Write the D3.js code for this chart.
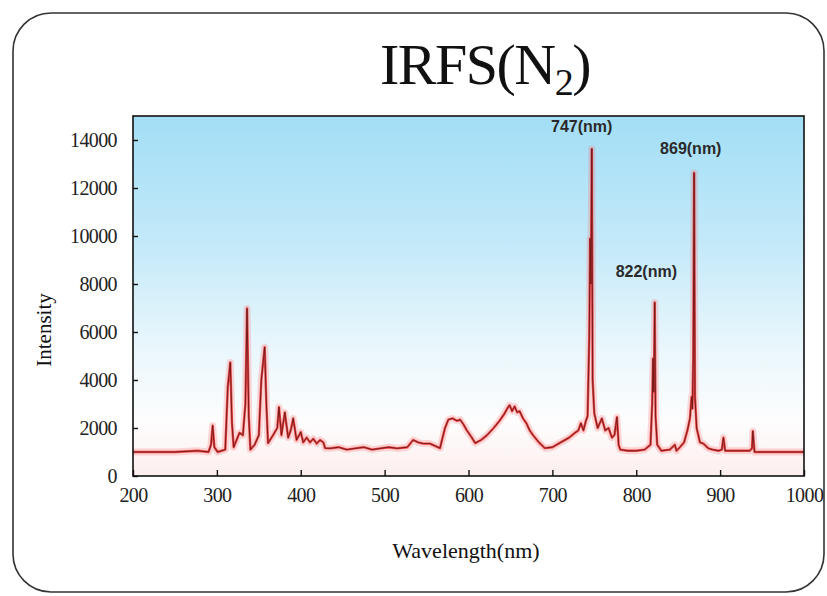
<!DOCTYPE html>
<html lang="en">
<head>
  <meta charset="UTF-8">
  <title>IRFS(N2)</title>
  <script src="https://d3js.org/d3.v7.min.js"></script>
  <style>
    body, html { margin: 0; padding: 0; background: #fff; }
    svg { display: block; }
    .tick-label { font-family: "Liberation Serif", "Times New Roman", serif; font-size: 20px; fill: #222; letter-spacing: -0.6px; }
    .axis-title { font-family: "Liberation Serif", "Times New Roman", serif; fill: #111; }
    .peak-label { font-family: "Liberation Sans", Arial, sans-serif; font-size: 16px; font-weight: bold; fill: #2a2a2a; }
  </style>
</head>
<body>
  <svg id="chart" width="827" height="596"></svg>
  <script>
    // spectrum (wavelength nm / intensity)
    const wavelength = [200, 250, 277, 290, 293, 295, 297, 301, 310, 313, 316, 318, 320, 327, 331, 334, 336, 338, 340, 345, 350, 353, 357, 359, 361, 367, 372, 374, 377, 381, 385, 388, 391, 395, 400, 403, 407, 411, 415, 419, 423, 427, 429, 435, 445, 455, 465, 475, 485, 495, 505, 515, 527, 534, 540, 546, 554, 566, 572, 576, 581, 586, 590, 594, 598, 603, 608, 615, 622, 630, 637, 642, 646, 649, 652, 655, 658, 661, 665, 669, 673, 677, 684, 691, 700, 710, 720, 727, 731, 734, 737, 740, 742, 744, 745, 746, 747, 748, 750, 754, 759, 763, 767, 771, 774, 777, 779, 781, 790, 800, 810, 817, 819, 820, 821, 822, 823, 825, 830, 840, 846, 848, 852, 857, 861, 864, 866, 867, 868, 869, 870, 872, 876, 880, 886, 891, 898, 902, 904, 906, 915, 925, 935, 938, 939, 941, 950, 970, 1000];
    const intensity = [1000, 1000, 1050, 1000, 1300, 2100, 1200, 1000, 1100, 3700, 4730, 2200, 1200, 1800, 1700, 3000, 6980, 2500, 1100, 1300, 1700, 4000, 5370, 3000, 1370, 1700, 2000, 2870, 1700, 2650, 1600, 1900, 2400, 1500, 1830, 1400, 1600, 1400, 1550, 1350, 1500, 1400, 1160, 1150, 1200, 1100, 1150, 1200, 1100, 1150, 1200, 1150, 1200, 1500, 1400, 1350, 1350, 1160, 2000, 2350, 2400, 2300, 2350, 2150, 1900, 1650, 1370, 1500, 1700, 2000, 2300, 2550, 2800, 2950, 2700, 2900, 2650, 2700, 2400, 2200, 1900, 1700, 1400, 1160, 1200, 1400, 1600, 1800, 1900, 2200, 1900, 2300, 2500, 5800, 9900, 8000, 13630, 4000, 2600, 2000, 2400, 1900, 2000, 1600, 1700, 2450, 1300, 1100, 1050, 1050, 1100, 1300, 3000, 4900, 3500, 7230, 2500, 1300, 1050, 1100, 1300, 1050, 1200, 1400, 1900, 2400, 3300, 2800, 5000, 12630, 3300, 2000, 1400, 1350, 1150, 1100, 1050, 1100, 1600, 1050, 1050, 1050, 1050, 1150, 1870, 1000, 1000, 1000, 1000];

    const xTicks = [200, 300, 400, 500, 600, 700, 800, 900, 1000];
    const yTicks = [0, 2000, 4000, 6000, 8000, 10000, 12000, 14000];
    const peakNames = ["747(nm)", "869(nm)", "822(nm)"];
    const peakTextX = [735, 865, 812];
    const peakTextY = [14350, 13400, 8300];

    const svg = d3.select("#chart");
    const margin = { left: 133, top: 116, right: 804, bottom: 476 };

    const x = d3.scaleLinear().domain([200, 1000]).range([margin.left, margin.right]);
    const y = d3.scaleLinear().domain([0, 15000]).range([margin.bottom, margin.top]);

    // outer rounded frame
    svg.append("rect")
      .attr("x", 13).attr("y", 13)
      .attr("width", 811).attr("height", 579)
      .attr("rx", 38).attr("ry", 38)
      .attr("fill", "#fff")
      .attr("stroke", "#333")
      .attr("stroke-width", 1.6);

    // plot background gradient
    const defs = svg.append("defs");
    const grad = defs.append("linearGradient")
      .attr("id", "bg").attr("x1", 0).attr("y1", 0).attr("x2", 0).attr("y2", 1);
    grad.append("stop").attr("offset", "0%").attr("stop-color", "#a2def6");
    grad.append("stop").attr("offset", "35%").attr("stop-color", "#c3e9f9");
    grad.append("stop").attr("offset", "65%").attr("stop-color", "#eaf7fc");
    grad.append("stop").attr("offset", "85%").attr("stop-color", "#fdfdfd");
    grad.append("stop").attr("offset", "100%").attr("stop-color", "#fdeeee");

    svg.append("rect")
      .attr("x", margin.left).attr("y", margin.top)
      .attr("width", margin.right - margin.left)
      .attr("height", margin.bottom - margin.top)
      .attr("fill", "url(#bg)");

    // title
    const title = svg.append("text")
      .attr("class", "axis-title")
      .attr("x", 485).attr("y", 84)
      .attr("text-anchor", "middle")
      .attr("font-size", 58)
      .attr("letter-spacing", -1.5);
    title.append("tspan").text("IRFS(N");
    title.append("tspan").attr("font-size", 38).attr("dy", 11).text("2");
    title.append("tspan").attr("dy", -11).text(")");

    // spectrum
    const pts = wavelength.map((w, i) => [w, intensity[i]]);
    const line = d3.line().x(d => x(d[0])).y(d => y(d[1]));

    svg.append("path").datum(pts)
      .attr("d", line).attr("fill", "none")
      .attr("stroke", "#ff6b6b").attr("stroke-opacity", 0.25)
      .attr("stroke-width", 7).attr("stroke-linejoin", "round");
    svg.append("path").datum(pts)
      .attr("d", line).attr("fill", "none")
      .attr("stroke", "#e01818").attr("stroke-opacity", 0.75)
      .attr("stroke-width", 2.4).attr("stroke-linejoin", "round");
    svg.append("path").datum(pts)
      .attr("d", line).attr("fill", "none")
      .attr("stroke", "#6e1515")
      .attr("stroke-width", 0.9);

    // axes
    const xAxis = d3.axisBottom(x).tickValues(xTicks).tickSize(-6).tickPadding(12).tickFormat(d3.format("d"));
    const gx = svg.append("g").attr("transform", `translate(0,${margin.bottom})`).call(xAxis);
    gx.select(".domain").remove();
    gx.selectAll("line").attr("stroke", "#111").attr("stroke-width", 1.4);
    gx.selectAll("text").attr("class", "tick-label").attr("font-size", null).attr("font-family", null).attr("fill", null);

    const yAxis = d3.axisLeft(y).tickValues(yTicks).tickSize(-5).tickPadding(16).tickFormat(d3.format("d"));
    const gy = svg.append("g").attr("transform", `translate(${margin.left},0)`).call(yAxis);
    gy.select(".domain").remove();
    gy.selectAll("line").attr("stroke", "#111").attr("stroke-width", 1.4);
    gy.selectAll("text").attr("class", "tick-label").attr("font-size", null).attr("font-family", null).attr("fill", null);

    // plot border
    svg.append("rect")
      .attr("x", margin.left).attr("y", margin.top)
      .attr("width", margin.right - margin.left)
      .attr("height", margin.bottom - margin.top)
      .attr("fill", "none").attr("stroke", "#111").attr("stroke-width", 1.6);

    // peak labels
    svg.selectAll(".peak-label").data(peakNames).enter().append("text")
      .attr("class", "peak-label")
      .attr("x", (d, i) => x(peakTextX[i]))
      .attr("y", (d, i) => y(peakTextY[i]))
      .attr("text-anchor", "middle")
      .text(d => d);

    // axis titles
    svg.append("text").attr("class", "axis-title")
      .attr("x", 466).attr("y", 558)
      .attr("text-anchor", "middle")
      .attr("font-size", 22)
      .text("Wavelength(nm)");

    svg.append("text").attr("class", "axis-title")
      .attr("transform", "translate(51,330) rotate(-90)")
      .attr("text-anchor", "middle")
      .attr("font-size", 21)
      .text("Intensity");
  </script>
</body>
</html>
